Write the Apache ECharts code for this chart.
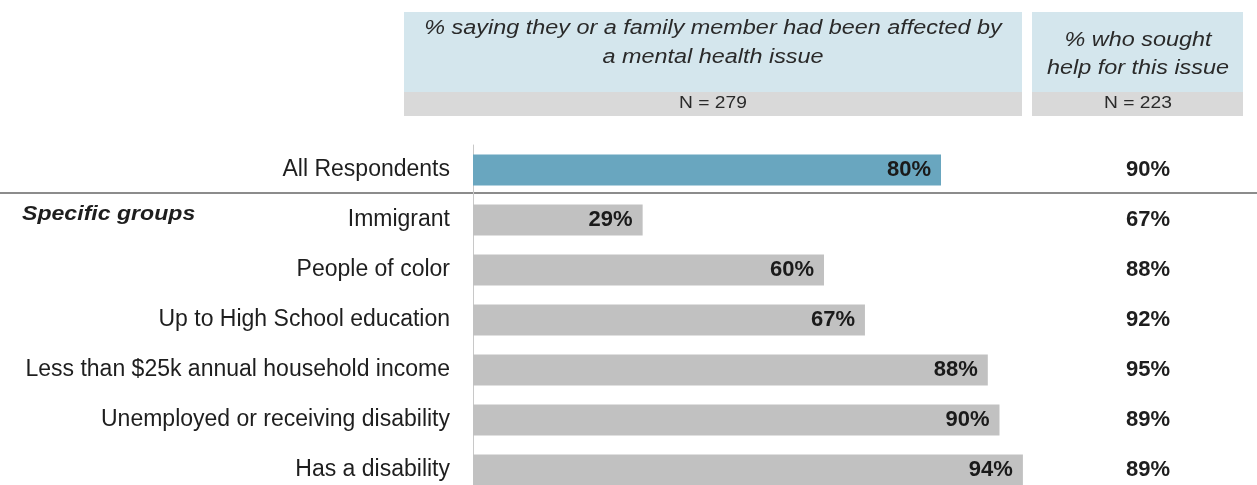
<!DOCTYPE html>
<html>
<head>
<meta charset="utf-8">
<script src="https://cdn.jsdelivr.net/npm/echarts@6/dist/echarts.min.js"></script>
<style>
  html, body { margin: 0; padding: 0; background: #fff; }
  #chart { width: 1257px; height: 485px; }
</style>
</head>
<body>
<div id="chart"></div>
<script>
// 分组名称
const groups = [
  'All Respondents',
  'Immigrant',
  'People of color',
  'Up to High School education',
  'Less than $25k annual household income',
  'Unemployed or receiving disability',
  'Has a disability',
];
// % 受影响
const affected = [80, 29, 60, 67, 88, 90, 94];
// % 寻求帮助
const soughtHelp = [90, 67, 88, 92, 95, 89, 89];

const FONT = '"Liberation Sans", Arial, sans-serif';
const BLUE = '#69a6bf';
const GREY = '#c1c1c1';
const INK = '#1e1e1e';

const chart = echarts.init(document.getElementById('chart'));

// 表头文字（原图横向拉伸，用 scaleX 模拟）
const headText = (text, x, y, size, italic) => ({
  type: 'text',
  x,
  y,
  scaleX: 1.2,
  style: {
    text,
    font: (italic ? 'italic ' : '') + size + 'px ' + FONT,
    fill: '#2a2a2a',
    align: 'center',
    verticalAlign: 'middle',
  },
});

const option = {
  animation: false,
  grid: { left: 473, top: 145, width: 585, height: 350, outerBoundsMode: 'none' },
  xAxis: { type: 'value', min: 0, max: 100, show: false },
  yAxis: [
    {
      type: 'category',
      data: groups,
      inverse: true,
      axisLine: { show: true, lineStyle: { color: '#c8c8c8', width: 1 } },
      axisTick: { show: false },
      axisLabel: { fontFamily: FONT, fontSize: 23, color: INK, margin: 23 },
    },
    {
      type: 'category',
      data: soughtHelp,
      inverse: true,
      position: 'right',
      axisLine: { show: false },
      axisTick: { show: false },
      axisLabel: {
        fontFamily: FONT,
        fontSize: 22,
        fontWeight: 'bold',
        color: INK,
        align: 'center',
        margin: 90,
        formatter: v => v + '%',
      },
    },
  ],
  series: [
    {
      type: 'bar',
      barWidth: 31,
      data: affected.map((v, i) => ({ value: v, itemStyle: { color: i === 0 ? BLUE : GREY } })),
      label: {
        show: true,
        position: 'insideRight',
        distance: 10,
        fontFamily: FONT,
        fontSize: 22,
        fontWeight: 'bold',
        color: '#1a1a1a',
        formatter: p => p.value + '%',
      },
    },
  ],
  graphic: [
    // 表头背景
    { type: 'rect', shape: { x: 404, y: 12, width: 618, height: 80 }, style: { fill: '#d4e6ed' } },
    { type: 'rect', shape: { x: 404, y: 92, width: 618, height: 24 }, style: { fill: '#d9d9d9' } },
    { type: 'rect', shape: { x: 1032, y: 12, width: 211, height: 80 }, style: { fill: '#d4e6ed' } },
    { type: 'rect', shape: { x: 1032, y: 92, width: 211, height: 24 }, style: { fill: '#d9d9d9' } },
    headText('% saying they or a family member had been affected by', 713, 29, 19.5, true),
    headText('a mental health issue', 713, 58, 19.5, true),
    headText('% who sought', 1138, 41, 19.5, true),
    headText('help for this issue', 1138, 69, 19.5, true),
    headText('N = 279', 713, 104, 16, false),
    headText('N = 223', 1138, 104, 16, false),
    // 分隔线
    { type: 'line', shape: { x1: 0, y1: 193, x2: 1257, y2: 193 }, style: { stroke: '#8c8c8c', lineWidth: 2 } },
    {
      type: 'text',
      x: 22,
      y: 214,
      scaleX: 1.1,
      style: { text: 'Specific groups', font: 'italic bold 21px ' + FONT, fill: INK, verticalAlign: 'middle' },
    },
  ],
};

chart.setOption(option);
</script>
</body>
</html>
